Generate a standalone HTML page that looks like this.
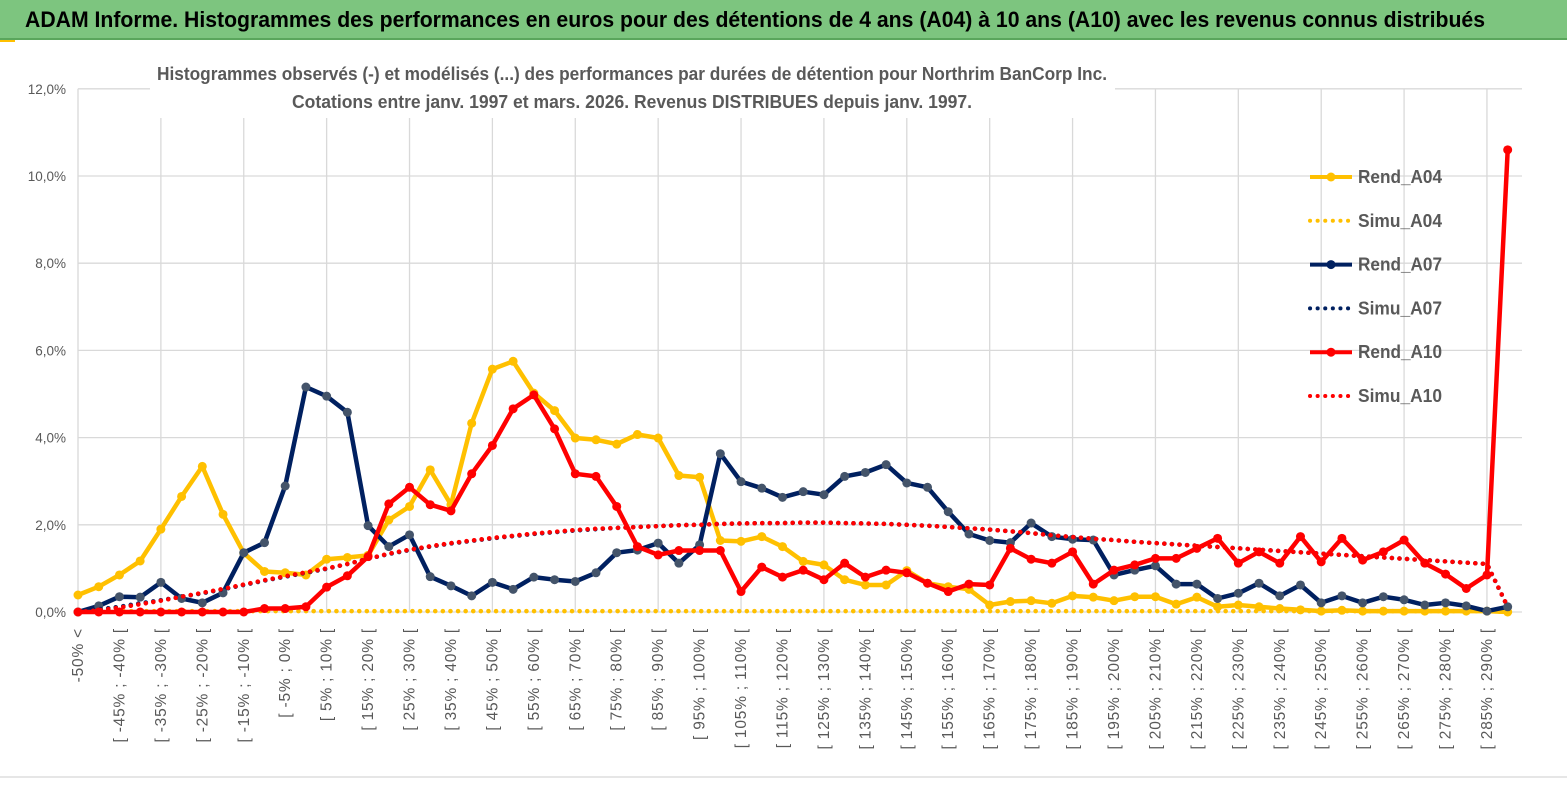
<!DOCTYPE html>
<html><head><meta charset="utf-8"><style>
body{margin:0;width:1567px;height:789px;overflow:hidden;background:#fff;font-family:"Liberation Sans",sans-serif;}
#banner{position:absolute;left:0;top:0;width:1567px;height:38px;background:#7dc57f;border-bottom:2px solid #5aa65c;}
svg{position:absolute;left:0;top:0;}
</style></head><body>
<div id="banner"></div>
<svg id="chart" width="1567" height="789">
<text x="25" y="27" font-size="22" font-weight="bold" fill="#000" textLength="1460" lengthAdjust="spacingAndGlyphs">ADAM Informe. Histogrammes des performances en euros pour des détentions de 4 ans (A04) à 10 ans (A10) avec les revenus connus distribués</text>
</svg>
<script>
const categoriesCount = 70;
const yTicks = [0,2,4,6,8,10,12];
const rendA04 = [0.39,0.58,0.85,1.17,1.9,2.65,3.34,2.24,1.35,0.93,0.9,0.85,1.21,1.25,1.3,2.11,2.42,3.26,2.46,4.33,5.57,5.75,5.02,4.62,3.99,3.95,3.85,4.07,3.99,3.13,3.09,1.64,1.62,1.73,1.5,1.16,1.08,0.74,0.62,0.62,0.95,0.66,0.58,0.52,0.16,0.24,0.26,0.2,0.37,0.34,0.26,0.35,0.35,0.18,0.34,0.12,0.16,0.12,0.08,0.05,0.02,0.04,0.02,0.02,0.02,0.02,0.02,0.02,0.02,0.0];
const rendA07 = [0,0.14,0.35,0.34,0.68,0.31,0.21,0.44,1.36,1.59,2.89,5.16,4.95,4.58,1.98,1.5,1.77,0.81,0.6,0.37,0.68,0.52,0.8,0.74,0.7,0.9,1.36,1.42,1.58,1.12,1.54,3.63,2.99,2.84,2.63,2.76,2.69,3.11,3.2,3.38,2.96,2.86,2.3,1.79,1.64,1.59,2.04,1.73,1.67,1.65,0.85,0.96,1.06,0.64,0.64,0.31,0.43,0.66,0.37,0.62,0.21,0.37,0.21,0.35,0.28,0.16,0.21,0.14,0.02,0.12];
const rendA10 = [0,0,0,0,0,0,0,0,0,0.08,0.08,0.12,0.57,0.83,1.27,2.48,2.86,2.46,2.32,3.17,3.82,4.66,4.98,4.2,3.17,3.11,2.42,1.5,1.31,1.41,1.41,1.41,0.47,1.03,0.8,0.96,0.74,1.12,0.8,0.96,0.9,0.66,0.47,0.64,0.62,1.46,1.21,1.12,1.38,0.64,0.96,1.08,1.23,1.23,1.46,1.69,1.12,1.38,1.12,1.73,1.15,1.69,1.19,1.38,1.65,1.12,0.87,0.54,0.85,10.6];
const simuA04 = [0.02,0.02,0.02,0.02,0.02,0.02,0.02,0.02,0.02,0.02,0.02,0.02,0.02,0.02,0.02,0.02,0.02,0.02,0.02,0.02,0.02,0.02,0.02,0.02,0.02,0.02,0.02,0.02,0.02,0.02,0.02,0.02,0.02,0.02,0.02,0.02,0.02,0.02,0.02,0.02,0.02,0.02,0.02,0.02,0.02,0.02,0.02,0.02,0.02,0.02,0.02,0.02,0.02,0.02,0.02,0.02,0.02,0.02,0.02,0.02,0.02,0.02,0.02,0.02,0.02,0.02,0.02,0.02,0.02,0.0];
const simuA07 = [0,0.06,0.12,0.2,0.27,0.35,0.43,0.52,0.62,0.72,0.81,0.9,0.99,1.1,1.22,1.33,1.42,1.5,1.57,1.63,1.69,1.74,1.79,1.83,1.87,1.9,1.93,1.95,1.97,1.99,2.0,2.02,2.03,2.04,2.04,2.05,2.05,2.04,2.03,2.02,2.0,1.98,1.95,1.92,1.89,1.85,1.81,1.76,1.72,1.68,1.65,1.61,1.58,1.55,1.52,1.49,1.46,1.43,1.4,1.37,1.34,1.31,1.28,1.25,1.22,1.19,1.16,1.13,1.1,0.12];
const simuA10 = [0,0.04,0.1,0.18,0.26,0.35,0.44,0.53,0.63,0.73,0.82,0.91,1.0,1.1,1.22,1.34,1.43,1.51,1.58,1.64,1.7,1.75,1.8,1.84,1.88,1.91,1.93,1.95,1.97,1.99,2.0,2.02,2.03,2.04,2.04,2.05,2.05,2.04,2.03,2.02,2.0,1.98,1.95,1.92,1.89,1.85,1.81,1.76,1.72,1.68,1.65,1.61,1.58,1.55,1.52,1.49,1.46,1.43,1.4,1.37,1.34,1.31,1.28,1.25,1.22,1.19,1.16,1.13,1.1,0.12];

const NS='http://www.w3.org/2000/svg';
const svg=document.getElementById('chart');
const X0=78, DX=20.72, Y0=612, PXPER=43.6;
const xs=i=>X0+i*DX, ys=v=>Y0-v*PXPER;
function mk(tag,attrs,parent){const e=document.createElementNS(NS,tag);for(const k in attrs)e.setAttribute(k,attrs[k]);(parent||svg).appendChild(e);return e;}
function label(i){if(i===0)return '-50% <';const a=-50+5*(i-1);return '[ '+a+'% ; '+(a+5)+'% [';}

const grid=mk('g',{});


yTicks.forEach(t=>{
  const l=mk('line',{x1:X0,x2:1522,y1:ys(t),y2:ys(t),stroke:'#d9d9d9','stroke-width':1.3},grid);
  
  
  const tx=mk('text',{x:66,y:ys(t)+5,'text-anchor':'end','font-size':13.5,fill:'#595959','font-family':'Liberation Sans, sans-serif'});
  tx.textContent=t.toFixed(1).replace('.',',')+'%';
  
  
});
for(let i=0;i<categoriesCount;i+=4){
  const l=mk('line',{x1:xs(i),x2:xs(i),y1:ys(12),y2:Y0,stroke:'#d9d9d9','stroke-width':1.3},grid);
  
  
}
for(let i=0;i<categoriesCount;i+=2){
  const tx=mk('text',{transform:'translate('+(xs(i)+5)+',628) rotate(-90)','text-anchor':'end','font-size':15.5,'letter-spacing':0.8,fill:'#595959','font-family':'Liberation Sans, sans-serif'});
  tx.textContent=label(i);
  
  
}
const tb=mk('rect',{x:150,y:58,width:965,height:60,fill:'#fff'});


[['Histogrammes observés (-) et modélisés (...) des performances par durées de détention pour Northrim BanCorp Inc.',80,950],['Cotations entre janv. 1997 et mars. 2026. Revenus DISTRIBUES depuis janv. 1997.',108,680]].forEach(([s,y,w])=>{
  const t=mk('text',{x:632,y:y,'text-anchor':'middle','font-size':18,'font-weight':'bold',fill:'#595959',textLength:w,lengthAdjust:'spacingAndGlyphs','font-family':'Liberation Sans, sans-serif'});
  t.textContent=s;
  
  
});

function series(data,color,dotted,name,markerColor){
  const g=mk('g',{});
  
  
  const pts=data.map((v,i)=>xs(i).toFixed(1)+','+ys(v).toFixed(1)).join(' ');
  const attrs={points:pts,fill:'none',stroke:color,'stroke-width':dotted?4.5:4.5,'stroke-linejoin':'round'};
  if(dotted){attrs['stroke-dasharray']='0.1 7.5';attrs['stroke-linecap']='round';}
  const pl=mk('polyline',attrs,g);
  
  
  if(!dotted){data.forEach((v,i)=>{
    const c=mk('circle',{cx:xs(i),cy:ys(v),r:4.5,fill:markerColor},g);
    
    
  });}
}
series(simuA04,'#ffc000',true,'simu-a04');
series(rendA04,'#ffc000',false,'rend-a04','#ffc000');
series(rendA07,'#002060',false,'rend-a07','#44546a');
series(simuA07,'#002060',true,'simu-a07');
series(simuA10,'#ff0000',true,'simu-a10');
series(rendA10,'#ff0000',false,'rend-a10','#ff0000');

const leg=mk('g',{});


[['Rend_A04','#ffc000',false],['Simu_A04','#ffc000',true],['Rend_A07','#002060',false],['Simu_A07','#002060',true],['Rend_A10','#ff0000',false],['Simu_A10','#ff0000',true]].forEach(([n,c,d],k)=>{
  const y=177+k*43.8;
  const e=mk('g',{},leg);
  
  
  const a={x1:1310,x2:1352,y1:y,y2:y,stroke:c,'stroke-width':4};
  if(d){a['stroke-dasharray']='0.1 7.5';a['stroke-linecap']='round';}
  mk('line',a,e);
  if(!d)mk('circle',{cx:1331,cy:y,r:4.5,fill:c},e);
  const t=mk('text',{x:1358,y:y+6,'font-size':18,'font-weight':'bold',fill:'#595959',textLength:84,lengthAdjust:'spacingAndGlyphs','font-family':'Liberation Sans, sans-serif'},e);
  t.textContent=n;
});
const f1=mk('rect',{x:0,y:40,width:15,height:2,fill:'#ffc000'});


const f2=mk('rect',{x:0,y:776,width:1567,height:2,fill:'#e6e6e6'});


</script>
</body></html>
